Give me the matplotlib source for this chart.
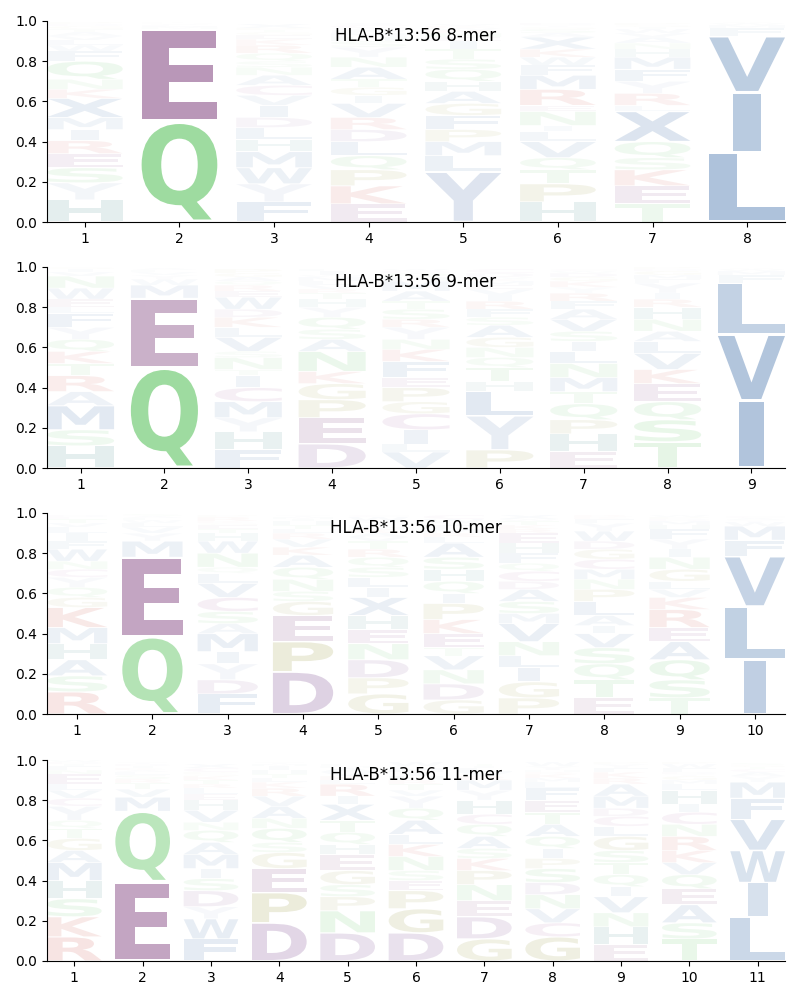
import matplotlib
matplotlib.use("Agg")
import matplotlib.pyplot as plt
from matplotlib.textpath import TextPath
from matplotlib.patches import PathPatch
from matplotlib.font_manager import FontProperties
from matplotlib.transforms import Affine2D

TITLE_PREFIX = "HLA-B*13:56"
LENGTHS = [8, 9, 10, 11]

# letters bottom->top, and their heights (frequencies), per position
LETTERS_8 = ["HYSERIMXKNQFWLVATGDP", "QEMLVDK", "FYWMHLDIVCANSQRKEGTPX",
             "EKPQLDRVIGTANYSHMFWCX", "YLMPFGAHQSTIENRWKV",
             "HPTQVLINERMFWKXASGYD", "TEKSQXLRYFMHNAVWIGP", "LIVFMWA"]
HEIGHTS_8 = [
    [.11, .085, .075, .07, .065, .055, .06, .095, .045, .05, .09, .05, .03, .025, .02, .02, .015, .015, .01, .01],
    [.50, .46, .012, .008, .006, .005, .005],
    [.10, .09, .08, .08, .06, .06, .05, .06, .05, .05, .05, .04, .03, .04, .04, .03, .02, .015, .01, .01, .02],
    [.09, .09, .08, .07, .07, .06, .06, .07, .04, .04, .04, .06, .05, .05, .03, .02, .02, .015, .01, .015, .01],
    [.25, .08, .07, .06, .07, .06, .06, .05, .06, .05, .05, .04, .02, .02, .015, .01, .01, .01],
    [.10, .09, .07, .06, .08, .05, .03, .07, .03, .08, .07, .05, .04, .04, .06, .02, .02, .01, .01, .01],
    [.09, .09, .08, .06, .08, .15, .03, .06, .06, .06, .06, .04, .03, .03, .02, .02, .01, .01, .01],
    [.345, .30, .28, .04, .015, .01, .005],
]

LETTERS_9 = ["HSMARTKQYFLEWNVIGD", "QEMWYVLA", "FHYMCITNSVLKDWERQAGP",
             "DEPGKNASQYHTRVLMWIF", "VLICGPEFKNYRSTAMHQDW",
             "PYLHTQNGASFRIVEMKWDC", "EHPQTMNLISVAFRYKGDWC",
             "TSQEKVLANHRIYFMGDP", "IVLFMWA"]
HEIGHTS_9 = [
    [.11, .08, .12, .07, .08, .06, .06, .06, .06, .07, .03, .04, .055, .06, .02, .015, .01, .01],
    [.50, .345, .065, .03, .02, .015, .01, .01],
    [.09, .09, .07, .08, .07, .06, .03, .06, .03, .07, .05, .05, .04, .06, .03, .03, .02, .02, .02, .02],
    [.12, .13, .09, .08, .06, .10, .06, .05, .06, .05, .04, .03, .02, .02, .02, .02, .01, .02, .01],
    [.08, .04, .07, .08, .06, .07, .05, .08, .06, .05, .06, .04, .05, .04, .05, .05, .02, .02, .01, .01],
    [.09, .17, .12, .05, .07, .05, .05, .05, .06, .04, .04, .04, .03, .03, .02, .02, .01, .01, .02, .02],
    [.08, .09, .07, .08, .06, .07, .07, .06, .05, .05, .06, .05, .04, .04, .03, .03, .02, .02, .01, .01],
    [.13, .11, .09, .09, .07, .08, .06, .05, .06, .06, .04, .03, .05, .02, .02, .02, .01, .01],
    [.335, .33, .255, .04, .02, .01, .005],
]

LETTERS_10 = ["RSAHMKGQYCNWFILVTED", "QEMYVLWFAS", "FDYIMASCVLQNWHTEGKRP",
              "DPEGSNQAKVRLTHIMY", "GPDNEHXILSQRTVAKMFYWC",
              "GDNVTEKPIQHSALRMFYWC", "PGILNVMSADCQFHERKTWX",
              "ETQSVIALPNMCGDWYFKR", "TSQAERKVLGNIYFHMDPW", "ILVFMWYAC"]
HEIGHTS_10 = [
    [.11, .08, .08, .08, .08, .10, .05, .05, .05, .04, .04, .06, .04, .04, .03, .02, .02, .01, .01],
    [.385, .395, .08, .04, .03, .02, .015, .01, .01, .01],
    [.10, .07, .08, .06, .09, .05, .06, .07, .07, .05, .03, .07, .06, .04, .02, .02, .01, .01, .02, .01],
    [.21, .15, .13, .07, .05, .06, .06, .06, .04, .04, .03, .02, .02, .02, .01, .01, .01],
    [.10, .08, .09, .08, .07, .07, .09, .05, .05, .05, .05, .04, .04, .02, .02, .02, .01, .01, .02, .02, .01],
    [.07, .08, .07, .07, .04, .07, .07, .08, .05, .06, .06, .06, .07, .03, .02, .02, .02, .01, .02, .02],
    [.08, .08, .07, .06, .07, .09, .05, .06, .06, .04, .05, .04, .05, .05, .05, .02, .02, .02, .01, .02],
    [.08, .09, .08, .08, .07, .04, .05, .07, .06, .05, .05, .05, .05, .04, .05, .04, .02, .01, .01],
    [.08, .09, .10, .09, .07, .09, .06, .04, .04, .06, .06, .04, .05, .05, .02, .02, .01, .01, .01],
    [.27, .265, .25, .08, .07, .02, .01, .01, .01],
]

LETTERS_11 = ["RKSHMAGTQYCVLENFIDW", "EQMVTRSLAKIDY", "FWYDSIMAQNVHELRTKGPCX",
              "DPEGSQNAVRKLTHIMY", "DNPSGEHQTXIRLKVAMF",
              "DGPESNKLAQYVTRHIMFW", "GDENPKSAQCHYMRVLIT",
              "GCVNDSPIQATEFLMKRHYW", "EHNVIQTSGLCDMARKFYP",
              "TSAEQVKRNCIHLMGYDFWP", "LIWVFMYACTGS"]
HEIGHTS_11 = [
    [.12, .10, .09, .09, .09, .06, .06, .05, .04, .07, .04, .04, .03, .05, .02, .02, .01, .01, .01],
    [.395, .35, .07, .04, .03, .02, .02, .015, .01, .01, .01, .01, .01],
    [.11, .10, .06, .08, .06, .05, .07, .06, .06, .04, .06, .05, .03, .03, .02, .02, .02, .01, .01, .02, .02],
    [.19, .15, .12, .08, .05, .07, .05, .06, .05, .04, .03, .02, .02, .02, .02, .01, .01],
    [.14, .11, .07, .06, .07, .08, .05, .06, .06, .08, .04, .06, .02, .02, .02, .02, .01, .01],
    [.14, .12, .09, .05, .05, .07, .06, .05, .07, .06, .06, .03, .03, .02, .02, .02, .02, .01, .02],
    [.11, .11, .08, .08, .07, .06, .05, .06, .06, .05, .07, .05, .05, .02, .02, .02, .01, .01],
    [.12, .07, .07, .07, .06, .07, .05, .05, .06, .06, .06, .06, .06, .03, .02, .02, .01, .01, .02, .02],
    [.08, .09, .07, .08, .05, .06, .06, .06, .07, .05, .05, .04, .06, .06, .03, .03, .02, .02, .01],
    [.11, .08, .09, .08, .07, .06, .06, .07, .06, .06, .04, .07, .03, .02, .02, .01, .01, .02, .02, .01],
    [.22, .17, .16, .155, .105, .08, .03, .02, .015, .01, .01, .01],
]

PANELS = [(LETTERS_8, HEIGHTS_8), (LETTERS_9, HEIGHTS_9),
          (LETTERS_10, HEIGHTS_10), (LETTERS_11, HEIGHTS_11)]


def rgb(r, g, b):
    return (r / 255, g / 255, b / 255)


COLORS = {}
COLORS["E"] = rgb(117, 50, 115)
COLORS["D"] = rgb(116, 62, 138)
for c in "QNST":
    COLORS[c] = rgb(79, 191, 82)
for c in "KR":
    COLORS[c] = rgb(200, 55, 45)
COLORS["H"] = rgb(40, 120, 120)
for c in "PG":
    COLORS[c] = rgb(140, 140, 40)
COLORS["C"] = rgb(150, 60, 140)
COLORS["Y"] = rgb(135, 160, 200)
for c in "AVLIMFWX":
    COLORS[c] = rgb(44, 97, 161)

FP = FontProperties(family="DejaVu Sans", weight="bold")
_cache = {}


def glyph(c):
    if c not in _cache:
        _cache[c] = TextPath((0, 0), c, size=1, prop=FP)
    return _cache[c]


REF_W = glyph("E").get_extents().width


def draw_letter(ax, c, x, y0, h, width=0.8, vpad=0.05):
    p = glyph(c)
    ext = p.get_extents()
    hs = min(width / ext.width, width / REF_W)
    cw = hs * ext.width
    shift = (width - cw) / 2
    hh = h * (1 - vpad)
    vs = hh / ext.height
    t = (Affine2D().translate(-ext.xmin, -ext.ymin).scale(hs, vs)
         .translate(x - width / 2 + shift, y0 + h * vpad / 2))
    alpha = min(1.0, 1.1 * h)
    ax.add_patch(PathPatch(t.transform_path(p), facecolor=COLORS[c],
                           edgecolor="none", alpha=alpha))


fig = plt.figure(figsize=(8, 10), dpi=100)
bottoms = [0.778, 0.532, 0.286, 0.039]
for (letters, heights), n, b in zip(PANELS, LENGTHS, bottoms):
    ax = fig.add_axes([0.05875, b, 0.9225, 0.201])
    for i, (lets, hts) in enumerate(zip(letters, heights)):
        y = 0.0
        for c, h in zip(lets, hts):
            draw_letter(ax, c, i + 1, y, h)
            y += h
    ax.set_xlim(0.6, n + 0.4)
    ax.set_ylim(0, 1)
    ax.set_xticks(range(1, n + 1))
    ax.set_yticks([0, 0.2, 0.4, 0.6, 0.8, 1.0])
    ax.spines["top"].set_visible(False)
    ax.spines["right"].set_visible(False)
    ax.text(0.5, 0.925, f"{TITLE_PREFIX} {n}-mer", transform=ax.transAxes,
            ha="center", va="center", fontsize=12)

fig.savefig("out.png", dpi=100)
